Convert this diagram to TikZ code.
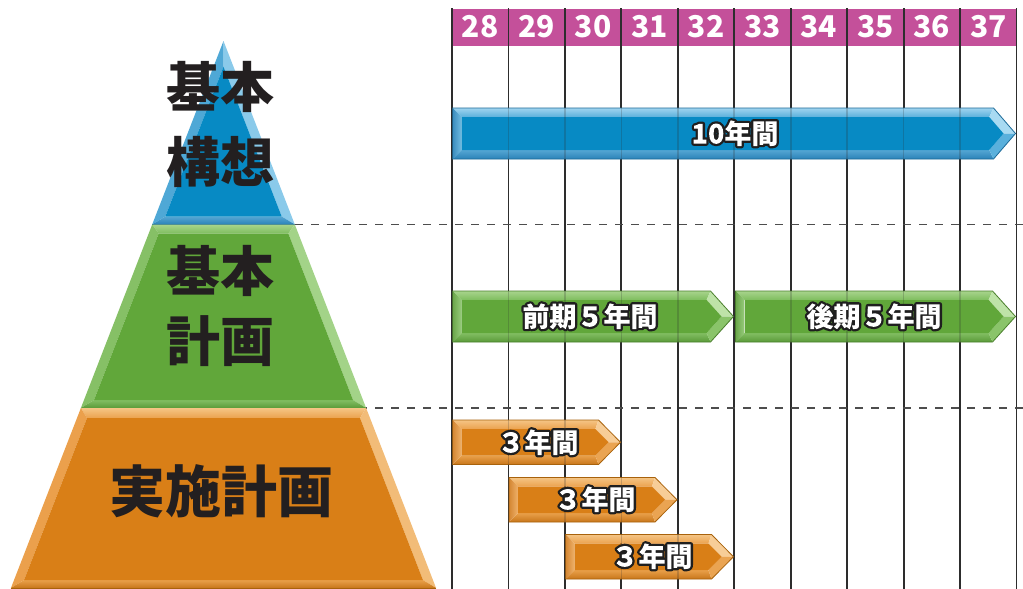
\documentclass[tikz,border=0pt]{standalone}
\usepackage{fontspec}
\setmainfont{Noto Sans CJK JP}
\usetikzlibrary{calc}

\definecolor{headpink}{HTML}{C4509A}
\definecolor{gridcol}{HTML}{2D2D2D}
\definecolor{dashcol}{HTML}{4D4D4D}
\definecolor{pyrtext}{HTML}{231F20}

\definecolor{blMain}{HTML}{078AC4}
\definecolor{blTopA}{HTML}{A0D4EF}
\definecolor{blTopB}{HTML}{5AB0DC}
\definecolor{blBotA}{HTML}{55A6D3}
\definecolor{blBotB}{HTML}{2A82B8}
\definecolor{blLeftA}{HTML}{3A8CBE}
\definecolor{blLeftB}{HTML}{72BDE2}
\definecolor{blTipU}{HTML}{A8DAF2}
\definecolor{blTipL}{HTML}{5AB0DC}
\definecolor{blLine}{HTML}{1C6A98}
\definecolor{blPLeft}{HTML}{4FA8D6}
\definecolor{blPRight}{HTML}{8ACAEA}

\definecolor{grMain}{HTML}{61A73A}
\definecolor{grTopA}{HTML}{A8D48C}
\definecolor{grTopB}{HTML}{7EBD5E}
\definecolor{grBotA}{HTML}{82BE63}
\definecolor{grBotB}{HTML}{5A9A38}
\definecolor{grLeftA}{HTML}{6BA64A}
\definecolor{grLeftB}{HTML}{98CC7C}
\definecolor{grTipU}{HTML}{BEE3A8}
\definecolor{grTipL}{HTML}{8AC46A}
\definecolor{grLine}{HTML}{4A7F2C}
\definecolor{grPLeft}{HTML}{86C066}
\definecolor{grPRight}{HTML}{A3D388}

\definecolor{orMain}{HTML}{D97F17}
\definecolor{orTopA}{HTML}{F5C585}
\definecolor{orTopB}{HTML}{EBA24F}
\definecolor{orBotA}{HTML}{E9A04A}
\definecolor{orBotB}{HTML}{C8761A}
\definecolor{orLeftA}{HTML}{D48632}
\definecolor{orLeftB}{HTML}{EFB16A}
\definecolor{orTipU}{HTML}{F7CD97}
\definecolor{orTipL}{HTML}{EAA452}
\definecolor{orLine}{HTML}{A8620C}
\definecolor{orPLeft}{HTML}{EBA04C}
\definecolor{orPRight}{HTML}{F2BC78}

% outlined white text: stroke glyphs in black and add them to the clip path,
% then paint white through that clip (the text is set only once)
\newcommand\outl[1]{\special{pdf:literal direct q 5 Tr 1 j 4.6 w 0.12 0.12 0.12 RG}#1\special{pdf:literal direct 1 1 1 rg -20000 -20000 40000 40000 re f Q}}

% bevelled arrow: #1 left x, #2 tip x, #3 top y, #4 bottom y, #5 tip length, #6 colour family
\newcommand\bevarrow[6]{%
\pgfmathsetmacro\bvL{#1}%
\pgfmathsetmacro\bvT{#2}%
\pgfmathsetmacro\bvY{#3}%
\pgfmathsetmacro\bvZ{#4}%
\pgfmathsetmacro\bvE{#2-#5}%
\pgfmathsetmacro\bvM{(#3+#4)/2}%
\pgfmathsetmacro\bviL{#1+9}%
\pgfmathsetmacro\bviY{#3+9}%
\pgfmathsetmacro\bviZ{#4-9}%
\pgfmathsetmacro\bviT{#2-12}%
\pgfmathsetmacro\bviE{\bviT-(\bvM-\bviY)*#5/(\bvM-#3)}%
\shade[top color=#6TopA, bottom color=#6TopB] (\bvL,\bvY) -- (\bvE,\bvY) -- (\bviE,\bviY) -- (\bviL,\bviY) -- cycle;
\shade[top color=#6BotA, bottom color=#6BotB] (\bvL,\bvZ) -- (\bviL,\bviZ) -- (\bviE,\bviZ) -- (\bvE,\bvZ) -- cycle;
\shade[left color=#6LeftA, right color=#6LeftB] (\bvL,\bvY) -- (\bviL,\bviY) -- (\bviL,\bviZ) -- (\bvL,\bvZ) -- cycle;
\fill[#6TipU] (\bvE,\bvY) -- (\bvT,\bvM) -- (\bviT,\bvM) -- (\bviE,\bviY) -- cycle;
\fill[#6TipL] (\bvE,\bvZ) -- (\bvT,\bvM) -- (\bviT,\bvM) -- (\bviE,\bviZ) -- cycle;
\fill[#6Main] (\bviL,\bviY) -- (\bviE,\bviY) -- (\bviT,\bvM) -- (\bviE,\bviZ) -- (\bviL,\bviZ) -- cycle;
\draw[#6Line, line width=0.8pt, line join=miter] (\bvL,\bvY) -- (\bvE,\bvY) -- (\bvT,\bvM) -- (\bvE,\bvZ) -- (\bvL,\bvZ) -- cycle;
}

% pyramid section: #1 outer top y, #2 inner top y, #3 outer bottom y, #4 inner bottom y, #5 family, #6 draw top band (1/0)
\newcommand\pyrsec[6]{%
\pgfmathsetmacro\pyA{223.5-0.3886*(#1-41)}%
\pgfmathsetmacro\pyB{447-\pyA}%
\pgfmathsetmacro\pyC{223.5-0.3886*(#3-41)}%
\pgfmathsetmacro\pyD{447-\pyC}%
\pgfmathsetmacro\pyE{223.5-0.3886*(#2-41)+10}%
\pgfmathsetmacro\pyF{447-\pyE}%
\pgfmathsetmacro\pyG{223.5-0.3886*(#4-41)+10}%
\pgfmathsetmacro\pyH{447-\pyG}%
\ifnum#6=1
\shade[top color=#5TopA, bottom color=#5TopB] (\pyA,#1) -- (\pyB,#1) -- (\pyF,#2) -- (\pyE,#2) -- cycle;
\fi
\fill[#5PLeft] (\pyA,#1) -- (\pyE,#2) -- (\pyG,#4) -- (\pyC,#3) -- cycle;
\fill[#5PRight] (\pyB,#1) -- (\pyD,#3) -- (\pyH,#4) -- (\pyF,#2) -- cycle;
\shade[top color=#5BotA, bottom color=#5BotB] (\pyC,#3) -- (\pyG,#4) -- (\pyH,#4) -- (\pyD,#3) -- cycle;
\fill[#5Main] (\pyE,#2) -- (\pyF,#2) -- (\pyH,#4) -- (\pyG,#4) -- cycle;
\draw[#5Line, line width=1pt] (\pyC,#3) -- (\pyD,#3);
}

\begin{document}
\begin{tikzpicture}[x=1pt, y=-1pt,
  hcell/.style={minimum width=56.45pt, minimum height=37pt, inner sep=0pt, fill=headpink, text=white, font=\bfseries\fontsize{30}{30}\selectfont},
  gridline/.style={draw=gridcol, line width=1.8pt},
  gridfaint/.style={draw=gridcol, line width=1.6pt, opacity=0.22},
  dashline/.style={draw=dashcol, line width=1.3pt, dash pattern=on 8pt off 8pt},
  lbl/.style={anchor=base, inner sep=0pt, text=white, font=\bfseries\fontsize{27}{27}\selectfont},
  pyr/.style={anchor=base, inner sep=0pt, text=pyrtext, align=center, font=\bfseries\fontsize{54}{75}\selectfont}]
\useasboundingbox (0,0) rectangle (1023,589);
\fill[white] (0,0) rectangle (1023,589);

% header cells
\foreach \n [count=\i from 0] in {28,...,37}
  \node[hcell] (h\n) at ({480.225+56.45*\i},27) {\n};

% grid lines
\foreach \i in {0,...,10}
  \draw[gridline] ({452+56.45*\i},8) -- ({452+56.45*\i},589);

% dashed separators
\coordinate (d1a) at (295,224.5);
\coordinate (d1b) at (1023,224.5);
\coordinate (d2a) at (295,408);
\coordinate (d2b) at (1023,408);
\draw[dashline] (d1a) -- (d1b);
\draw[dashline] (d2a) -- (d2b);

% pyramid
\pyrsec{41}{66.7}{224.5}{216.5}{bl}{0}
\pyrsec{224.5}{233.5}{408}{400}{gr}{1}
\pyrsec{408}{418}{588}{580}{or}{1}

% arrows
\bevarrow{452.5}{1015.5}{108}{159}{22}{bl}
\bevarrow{452.5}{733.5}{291}{342}{23}{gr}
\bevarrow{735.5}{1015.5}{291}{342}{23}{gr}
\bevarrow{452.5}{620.5}{420}{464.5}{22}{or}
\bevarrow{509}{677}{477.5}{522}{22}{or}
\bevarrow{565.5}{733.5}{534.5}{579}{22}{or}

% grid lines showing faintly through the arrows
\foreach \i in {0,...,10}
  \draw[gridfaint] ({452+56.45*\i},100) -- ({452+56.45*\i},589);

% pyramid texts (base = baseline of the last line)
\node[pyr] (kihonkoso) at (220,182.5) {基本\\構想};
\node[pyr, font=\bfseries\fontsize{54}{70}\selectfont] (kihonkeikaku) at (220,361.5) {基本\\計画};
\node[pyr, font=\bfseries\fontsize{56}{56}\selectfont] (jisshi) at (221,512) {実施計画};

% arrow labels
\node[lbl] (l10) at (735,143.5) {\outl{10年間}};
\node[lbl] (lzenki) at (590,326.5) {\outl{前期５年間}};
\node[lbl] (lkoki) at (874,326.5) {\outl{後期５年間}};
\node[lbl] (l3a) at (538,452.5) {\outl{３年間}};
\node[lbl] (l3b) at (595,509.5) {\outl{３年間}};
\node[lbl] (l3c) at (652,566.5) {\outl{３年間}};
\end{tikzpicture}
\end{document}
